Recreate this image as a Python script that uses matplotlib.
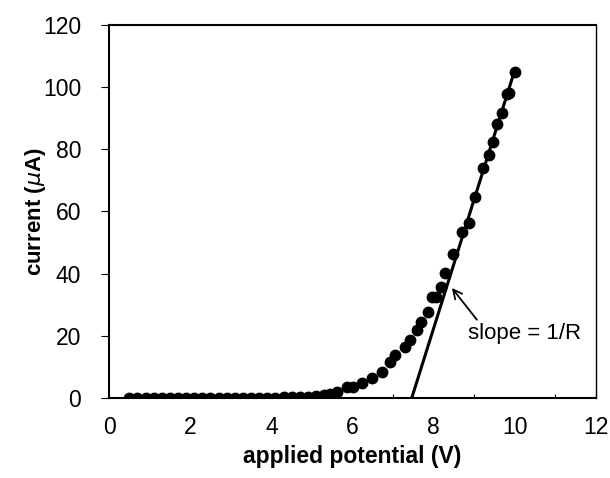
import matplotlib.pyplot as plt
import numpy as np

plt.rcParams['font.family'] = ['Liberation Sans', 'DejaVu Sans']

# measured points (V, uA)
volts = [0.5, 0.7, 0.9, 1.1, 1.3, 1.5, 1.7, 1.9, 2.1, 2.3, 2.5, 2.7, 2.9,
         3.1, 3.3, 3.5, 3.7, 3.9, 4.1, 4.3, 4.5, 4.7, 4.9, 5.1, 5.3,
         5.44, 5.62, 5.86, 6.01, 6.23, 6.48, 6.72, 6.92, 7.04, 7.29, 7.41,
         7.6, 7.7, 7.86, 7.95, 8.07, 8.18, 8.28, 8.47, 8.69, 8.86, 9.03,
         9.21, 9.36, 9.46, 9.56, 9.68, 9.8, 9.86, 10.0]
current = [0.0, 0.0, 0.0, 0.0, 0.0, 0.0, 0.0, 0.0, 0.0, 0.0, 0.0, 0.0, 0.0,
           0.0, 0.0, 0.0, 0.1, 0.1, 0.1, 0.2, 0.2, 0.3, 0.4, 0.6, 0.9,
           1.4, 1.9, 3.4, 3.6, 4.8, 6.4, 8.4, 11.6, 13.8, 16.4, 18.7,
           21.9, 24.5, 27.7, 32.4, 32.6, 35.7, 40.3, 46.4, 53.4, 56.3, 64.7,
           74.0, 78.2, 82.4, 88.3, 91.7, 97.8, 98.2, 105.0]

# linear fit drawn through the high-current part
fit_v = [7.46, 10.0]
fit_i = [0.0, 105.5]

fig = plt.figure(figsize=(6.1, 4.78), dpi=100)
ax = fig.add_axes([0.1787, 0.1674, 0.7983, 0.7803])

ax.plot(fit_v, fit_i, color='black', lw=2.2)
ax.plot(volts, current, 'o', color='black', markersize=7.5)

ax.annotate('slope = 1/R', xy=(8.45, 35.4), xytext=(8.84, 20.9),
            fontsize=16, va='center', ha='left',
            arrowprops=dict(arrowstyle='->', color='black', lw=1.3,
                            shrinkA=0, shrinkB=0,
                            relpos=(0.1, 1.0)))

ax.set_xlim(0, 12)
ax.set_ylim(0, 120)
ax.set_xticks(np.arange(0, 13, 2))
ax.set_xticks(np.arange(0, 13, 1), minor=True)
ax.set_yticks(np.arange(0, 121, 20))
ax.tick_params(axis='x', which='both', direction='in', length=3, width=0.8,
               labelsize=16.5, pad=13)
ax.tick_params(axis='x', which='major', length=0)
ax.tick_params(axis='y', direction='out', length=6, width=0.8, labelsize=16.5,
               pad=14)

for s in ['left', 'bottom', 'top']:
    ax.spines[s].set_linewidth(1.5)
ax.spines['right'].set_linewidth(1.0)

ax.set_xlabel('applied potential (V)', fontsize=16.5, fontweight='bold',
              labelpad=4)
ax.set_ylabel('current ($\\mu$A)', fontsize=16, fontweight='bold')
ax.yaxis.set_label_coords(-0.125, 0.5)

fig.savefig('out.png', dpi=100)
